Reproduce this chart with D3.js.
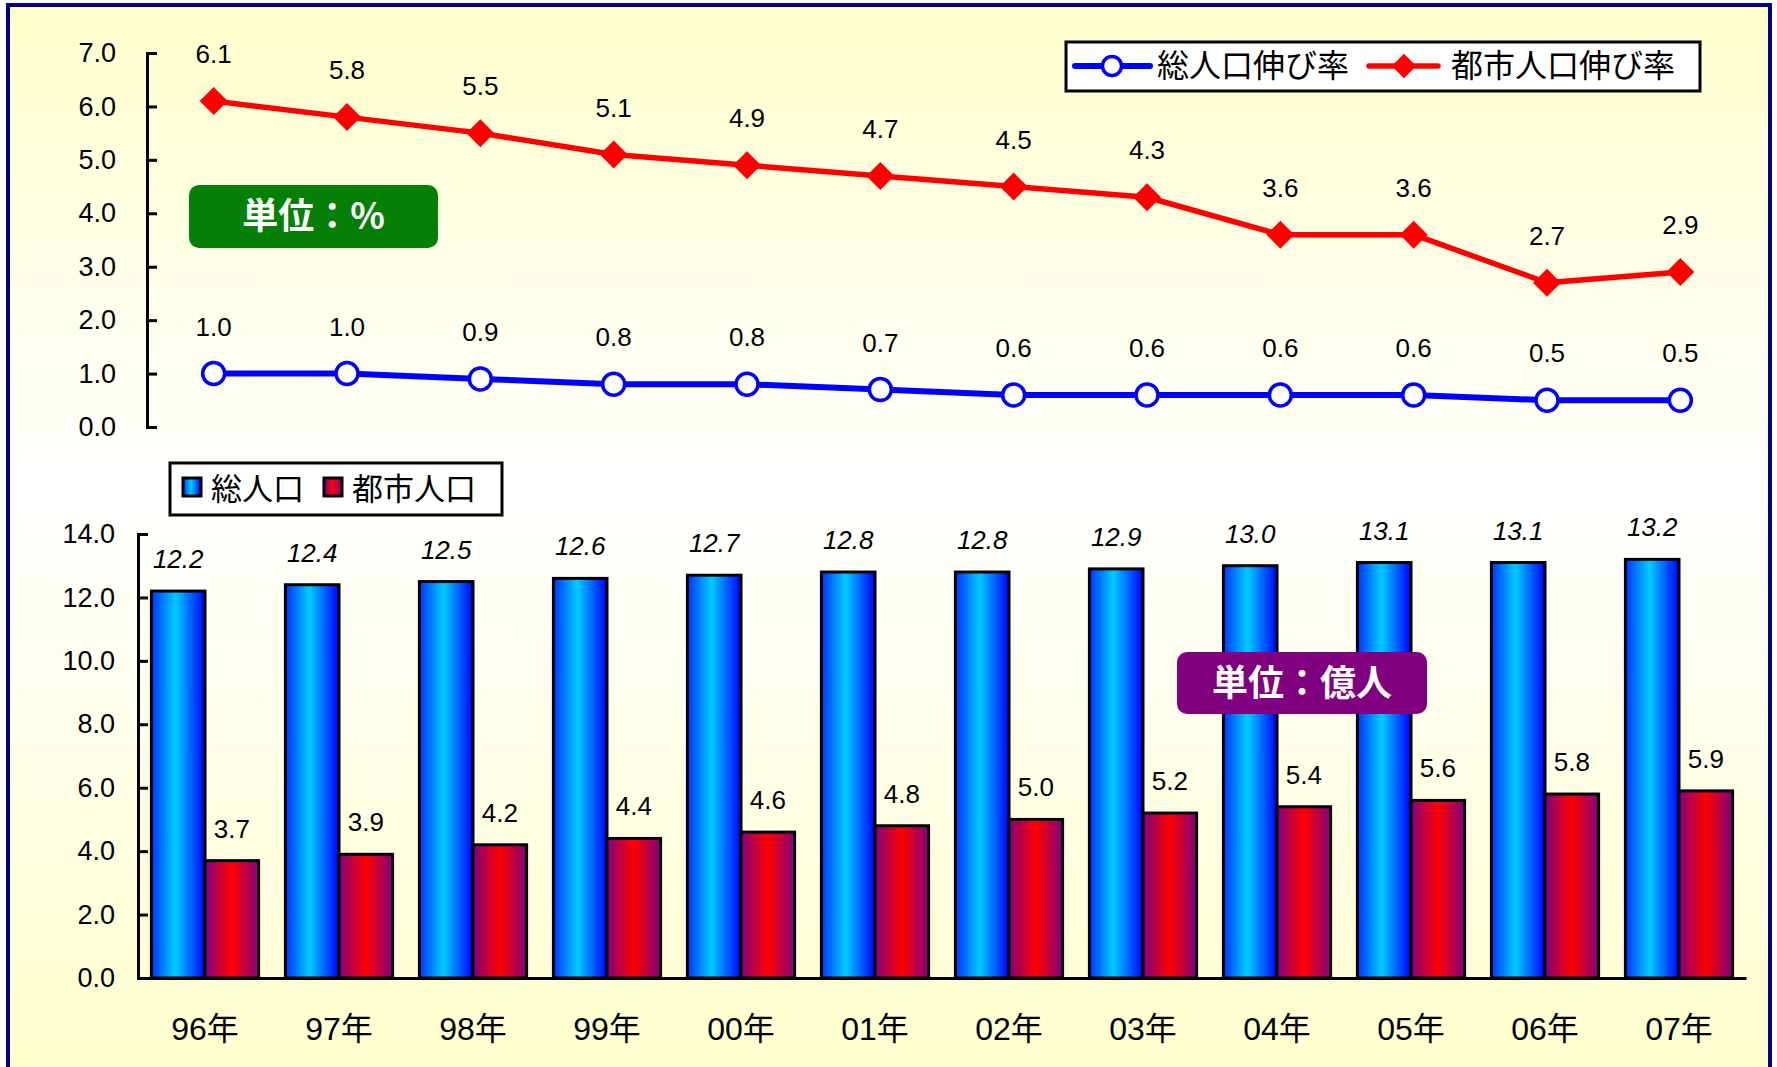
<!DOCTYPE html>
<html>
<head>
<meta charset="utf-8">
<script src="https://cdn.jsdelivr.net/npm/d3@7"></script>
<style>
  html, body { margin: 0; padding: 0; background: #ffffff; }
  svg { display: block; }
  .num { font-family: "Liberation Sans", Arial, sans-serif; }
  .jp { font-family: "Noto Sans CJK JP", "Noto Sans", sans-serif; }
</style>
</head>
<body>
<svg id="chart" width="1777" height="1067"></svg>
<script>
// Years on the category axis
const years = ["96年", "97年", "98年", "99年", "00年", "01年", "02年", "03年", "04年", "05年", "06年", "07年"];
// Growth rates (%)
const totalGrowth = [1.0, 1.0, 0.9, 0.8, 0.8, 0.7, 0.6, 0.6, 0.6, 0.6, 0.5, 0.5];
const urbanGrowth = [6.1, 5.8, 5.5, 5.1, 4.9, 4.7, 4.5, 4.3, 3.6, 3.6, 2.7, 2.9];
// Population (100 million people)
const totalPop = [12.2, 12.4, 12.5, 12.6, 12.7, 12.8, 12.8, 12.9, 13.0, 13.1, 13.1, 13.2];
const urbanPop = [3.7, 3.9, 4.2, 4.4, 4.6, 4.8, 5.0, 5.2, 5.4, 5.6, 5.8, 5.9];
// Axis ticks
const rateTicks = [0, 1, 2, 3, 4, 5, 6, 7];
const popTicks = [0, 2, 4, 6, 8, 10, 12, 14];
// Legend labels
const lineNames = ["総人口伸び率", "都市人口伸び率"];
const barNames = ["総人口", "都市人口"];

const svg = d3.select("#chart");
const defs = svg.append("defs");

// Background: pale yellow fading to white in the middle
const bg = defs.append("linearGradient").attr("id", "bgGrad")
  .attr("x1", 0).attr("y1", 0).attr("x2", 0).attr("y2", 1);
bg.append("stop").attr("offset", "0%").attr("stop-color", "#FFFFCC");
bg.append("stop").attr("offset", "45%").attr("stop-color", "#FFFFFF");
bg.append("stop").attr("offset", "100%").attr("stop-color", "#FFFFCC");

// Cylinder-like horizontal gradients for the bars
const gBlue = defs.append("linearGradient").attr("id", "gradBlue")
  .attr("x1", 0).attr("y1", 0).attr("x2", 1).attr("y2", 0);
gBlue.append("stop").attr("offset", "0%").attr("stop-color", "#0033FF");
gBlue.append("stop").attr("offset", "45%").attr("stop-color", "#00CCFF");
gBlue.append("stop").attr("offset", "100%").attr("stop-color", "#0000FF");

const gRed = defs.append("linearGradient").attr("id", "gradRed")
  .attr("x1", 0).attr("y1", 0).attr("x2", 1).attr("y2", 0);
gRed.append("stop").attr("offset", "0%").attr("stop-color", "#800080");
gRed.append("stop").attr("offset", "50%").attr("stop-color", "#FF0000");
gRed.append("stop").attr("offset", "100%").attr("stop-color", "#800080");

// Frame
svg.append("rect")
  .attr("x", 8).attr("y", 5).attr("width", 1762).attr("height", 1080)
  .attr("fill", "url(#bgGrad)")
  .attr("stroke", "#000080").attr("stroke-width", 4);

// ---------- Upper panel: growth rate lines ----------
const xTop = d3.scaleBand().domain(years).range([147, 1747]);
const cx = d => xTop(d) + xTop.bandwidth() / 2;
const yTop = d3.scaleLinear().domain([0, 7]).range([427, 53]);

const axTop = svg.append("g")
  .attr("transform", "translate(147,0)")
  .call(d3.axisLeft(yTop).tickValues(rateTicks).tickFormat(d3.format(".1f"))
    .tickSize(-10).tickPadding(31));
axTop.select(".domain").attr("stroke", "#000").attr("stroke-width", 3);
axTop.selectAll(".tick line").attr("stroke", "#000").attr("stroke-width", 3);
axTop.selectAll(".tick text").attr("class", "num").attr("font-size", 27).attr("fill", "#000");

const totalRate = years.map((y, i) => ({ year: y, v: totalGrowth[i] }));
const urbanRate = years.map((y, i) => ({ year: y, v: urbanGrowth[i] }));
const line = d3.line().x(d => cx(d.year)).y(d => yTop(d.v));

svg.append("path").datum(urbanRate)
  .attr("d", line).attr("fill", "none")
  .attr("stroke", "#FF0000").attr("stroke-width", 5.5).attr("stroke-linejoin", "round");
svg.append("path").datum(totalRate)
  .attr("d", line).attr("fill", "none")
  .attr("stroke", "#0000FF").attr("stroke-width", 6).attr("stroke-linejoin", "round");

const diamond = d3.symbol().type(d3.symbolSquare).size(392);
svg.append("g").selectAll("path").data(urbanRate).join("path")
  .attr("d", diamond)
  .attr("transform", d => `translate(${cx(d.year)},${yTop(d.v)}) rotate(45)`)
  .attr("fill", "#FF0000");

svg.append("g").selectAll("circle").data(totalRate).join("circle")
  .attr("cx", d => cx(d.year)).attr("cy", d => yTop(d.v)).attr("r", 11)
  .attr("fill", "#FFFFFF").attr("stroke", "#0000FF").attr("stroke-width", 3.5);

const fmt = d3.format(".1f");
[urbanRate, totalRate].forEach(series => {
  svg.append("g").selectAll("text").data(series).join("text")
    .attr("class", "num")
    .attr("x", d => cx(d.year)).attr("y", d => yTop(d.v) - 38)
    .attr("text-anchor", "middle").attr("font-size", 26).attr("fill", "#000")
    .text(d => fmt(d.v));
});

// Unit badge (%)
svg.append("rect").attr("x", 189).attr("y", 185).attr("width", 249).attr("height", 63)
  .attr("rx", 10).attr("fill", "#067F06");
svg.append("text").attr("class", "jp")
  .attr("x", 313.5).attr("y", 229).attr("text-anchor", "middle")
  .attr("font-size", 36).attr("font-weight", "bold").attr("fill", "#FFFFFF")
  .text("単位：%");

// Line legend
const lgTop = svg.append("g");
lgTop.append("rect").attr("x", 1066).attr("y", 42).attr("width", 634).attr("height", 49)
  .attr("fill", "#FFFFFF").attr("stroke", "#000").attr("stroke-width", 3);
lgTop.append("line").attr("x1", 1075).attr("x2", 1150).attr("y1", 66).attr("y2", 66)
  .attr("stroke", "#0000FF").attr("stroke-width", 6).attr("stroke-linecap", "round");
lgTop.append("circle").attr("cx", 1112).attr("cy", 66).attr("r", 9.5)
  .attr("fill", "#FFFFFF").attr("stroke", "#0000FF").attr("stroke-width", 3.5);
lgTop.append("text").attr("class", "jp").attr("x", 1157).attr("y", 77)
  .attr("font-size", 32).attr("fill", "#000").text(lineNames[0]);
lgTop.append("line").attr("x1", 1369).attr("x2", 1438).attr("y1", 66).attr("y2", 66)
  .attr("stroke", "#FF0000").attr("stroke-width", 5.5).attr("stroke-linecap", "round");
lgTop.append("path").attr("d", d3.symbol().type(d3.symbolSquare).size(300))
  .attr("transform", "translate(1404,66) rotate(45)").attr("fill", "#FF0000");
lgTop.append("text").attr("class", "jp").attr("x", 1451).attr("y", 77)
  .attr("font-size", 32).attr("fill", "#000").text(lineNames[1]);

// ---------- Lower panel: population bars ----------
const xBot = d3.scaleBand().domain(years).range([138, 1746])
  .paddingInner(0.2).paddingOuter(0.1);
const xSub = d3.scaleBand().domain(barNames).range([0, xBot.bandwidth()]);
const yBot = d3.scaleLinear().domain([0, 14]).range([978, 534]);

const axLeft = svg.append("g")
  .attr("transform", "translate(138,0)")
  .call(d3.axisLeft(yBot).tickValues(popTicks).tickFormat(d3.format(".1f"))
    .tickSize(-10).tickPadding(23));
axLeft.select(".domain").attr("stroke", "#000").attr("stroke-width", 3);
axLeft.selectAll(".tick line").attr("stroke", "#000").attr("stroke-width", 3);
axLeft.selectAll(".tick text").attr("class", "num").attr("font-size", 27).attr("fill", "#000");

const groups = years.map((y, i) => ({ year: y, vals: [
  { key: barNames[0], v: totalPop[i] },
  { key: barNames[1], v: urbanPop[i] }
]}));

const gGroups = svg.append("g").selectAll("g").data(groups).join("g")
  .attr("transform", d => `translate(${xBot(d.year)},0)`);

gGroups.selectAll("rect").data(d => d.vals).join("rect")
  .attr("x", d => xSub(d.key)).attr("width", xSub.bandwidth())
  .attr("y", d => yBot(d.v)).attr("height", d => yBot(0) - yBot(d.v))
  .attr("fill", d => d.key === barNames[0] ? "url(#gradBlue)" : "url(#gradRed)")
  .attr("stroke", "#000").attr("stroke-width", 3);

gGroups.selectAll("text").data(d => d.vals).join("text")
  .attr("class", "num")
  .attr("x", d => xSub(d.key) + xSub.bandwidth() / 2)
  .attr("y", d => yBot(d.v) - 23)
  .attr("text-anchor", "middle").attr("font-size", 26).attr("fill", "#000")
  .attr("font-style", d => d.key === barNames[0] ? "italic" : "normal")
  .text(d => fmt(d.v));

const axBottom = svg.append("g")
  .attr("transform", "translate(0,978)")
  .call(d3.axisBottom(xBot).tickSize(0).tickPadding(39));
axBottom.select(".domain").attr("stroke", "#000").attr("stroke-width", 3);
axBottom.selectAll(".tick text").attr("class", "jp").attr("font-size", 32).attr("fill", "#000")
  .style("font-family", "'Liberation Sans', 'Noto Sans CJK JP', sans-serif");

// Unit badge (億人)
svg.append("rect").attr("x", 1177).attr("y", 652).attr("width", 250).attr("height", 62)
  .attr("rx", 10).attr("fill", "#800080");
svg.append("text").attr("class", "jp")
  .attr("x", 1302).attr("y", 696).attr("text-anchor", "middle")
  .attr("font-size", 36).attr("font-weight", "bold").attr("fill", "#FFFFFF")
  .text("単位：億人");

// Bar legend
const lgBot = svg.append("g");
lgBot.append("rect").attr("x", 170).attr("y", 463).attr("width", 332).attr("height", 52)
  .attr("fill", "#FFFFFF").attr("stroke", "#000").attr("stroke-width", 3);
lgBot.append("rect").attr("x", 183).attr("y", 478).attr("width", 18).attr("height", 18)
  .attr("fill", "url(#gradBlue)").attr("stroke", "#000").attr("stroke-width", 3);
lgBot.append("text").attr("class", "jp").attr("x", 211).attr("y", 500)
  .attr("font-size", 31).attr("fill", "#000").text(barNames[0]);
lgBot.append("rect").attr("x", 324).attr("y", 478).attr("width", 18).attr("height", 18)
  .attr("fill", "url(#gradRed)").attr("stroke", "#000").attr("stroke-width", 3);
lgBot.append("text").attr("class", "jp").attr("x", 352).attr("y", 500)
  .attr("font-size", 31).attr("fill", "#000").text(barNames[1]);
</script>
</body>
</html>
